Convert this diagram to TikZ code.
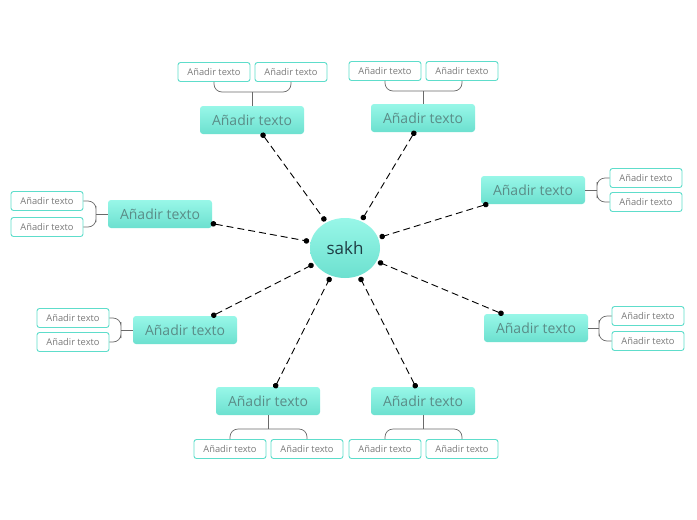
\documentclass[tikz,border=0pt]{standalone}
\usepackage{fontspec}
\setmainfont{Open Sans}
\usetikzlibrary{arrows.meta,shapes.geometric}
\definecolor{mtop}{HTML}{98F7E8}
\definecolor{mbot}{HTML}{6CE0CF}
\definecolor{mtext}{HTML}{5A8C87}
\definecolor{subborder}{HTML}{5EDDCB}
\definecolor{subtext}{HTML}{7A7A7A}
\definecolor{ctext}{HTML}{1E3D44}
\definecolor{brc}{HTML}{6A6A6A}
\begin{document}
\begin{tikzpicture}[x=1pt,y=-1pt,
  mainbox/.style={rectangle, rounded corners=3pt, minimum width=104pt, minimum height=28pt, inner sep=0pt, top color=mtop, bottom color=mbot, draw=none, text=mtext, font=\fontsize{14}{16}\selectfont},
  subbox/.style={rectangle, rounded corners=2.5pt, minimum width=72pt, minimum height=19pt, inner sep=0pt, draw=subborder, fill=white, text=subtext, font=\fontsize{9.3}{11}\selectfont, line width=0.9pt},
  centre/.style={ellipse, minimum width=70pt, minimum height=60pt, inner sep=0pt, top color=mtop, bottom color=mbot, text=ctext, font=\fontsize{17}{19}\selectfont},
  link/.style={dash pattern=on 7pt off 4pt, line width=0.9pt, {Circle[length=5.5pt]}-{Circle[length=5.5pt]}, shorten >=1.5pt, shorten <=-1.5pt},
  branch/.style={draw=brc, line width=0.7pt, rounded corners=8pt}
]
\path[fill=white] (0,0) rectangle (697,520);
\useasboundingbox (0,0) rectangle (697,520);

\node[centre] (c) at (345,248) {sakh};

% main nodes
\node[mainbox] (m1) at (252,120) {Añadir texto};
\node[mainbox] (m2) at (423,118) {Añadir texto};
\node[mainbox] (m3) at (533,190) {Añadir texto};
\node[mainbox] (m4) at (160,214) {Añadir texto};
\node[mainbox] (m5) at (185,330) {Añadir texto};
\node[mainbox] (m6) at (536,328) {Añadir texto};
\node[mainbox] (m7) at (268,401) {Añadir texto};
\node[mainbox] (m8) at (423,401) {Añadir texto};

% sub nodes
\node[subbox] (s1a) at (214,72) {Añadir texto};
\node[subbox] (s1b) at (291,72) {Añadir texto};
\node[subbox] (s2a) at (385,71) {Añadir texto};
\node[subbox] (s2b) at (462,71) {Añadir texto};
\node[subbox] (s3a) at (646,178) {Añadir texto};
\node[subbox] (s3b) at (646,202) {Añadir texto};
\node[subbox] (s4a) at (47,201) {Añadir texto};
\node[subbox] (s4b) at (47,227) {Añadir texto};
\node[subbox] (s5a) at (73,318) {Añadir texto};
\node[subbox] (s5b) at (73,342) {Añadir texto};
\node[subbox] (s6a) at (648,316) {Añadir texto};
\node[subbox] (s6b) at (648,341) {Añadir texto};
\node[subbox] (s7a) at (230,449) {Añadir texto};
\node[subbox] (s7b) at (307,449) {Añadir texto};
\node[subbox] (s8a) at (385,449) {Añadir texto};
\node[subbox] (s8b) at (462,449) {Añadir texto};

% branch junctions
\coordinate (b1) at (252,92);
\coordinate (b2) at (423,91);
\coordinate (b3) at (597,190);
\coordinate (b4) at (96,214);
\coordinate (b5) at (121,330);
\coordinate (b6) at (599,328);
\coordinate (b7) at (268,429);
\coordinate (b8) at (423,429);

\draw[branch] (s1a.south) |- (b1) -| (s1b.south);
\draw[branch] (m1.north) -- (b1);
\draw[branch] (s2a.south) |- (b2) -| (s2b.south);
\draw[branch] (m2.north) -- (b2);
\draw[branch] (s3a.west) -| (b3) |- (s3b.west);
\draw[branch] (m3.east) -- (b3);
\draw[branch] (s4a.east) -| (b4) |- (s4b.east);
\draw[branch] (m4.west) -- (b4);
\draw[branch] (s5a.east) -| (b5) |- (s5b.east);
\draw[branch] (m5.west) -- (b5);
\draw[branch] (s6a.west) -| (b6) |- (s6b.west);
\draw[branch] (m6.east) -- (b6);
\draw[branch] (s7a.north) |- (b7) -| (s7b.north);
\draw[branch] (m7.south) -- (b7);
\draw[branch] (s8a.north) |- (b8) -| (s8b.north);
\draw[branch] (m8.south) -- (b8);

% links
\foreach \m in {m1,m2,m3,m4,m5,m6,m7,m8}
  \draw[link] (\m) -- (c);
\end{tikzpicture}
\end{document}
